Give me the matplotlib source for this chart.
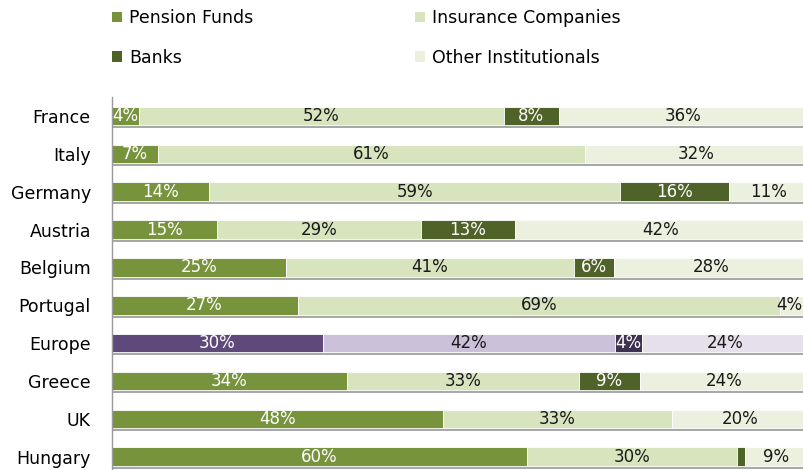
import matplotlib
matplotlib.use("Agg")
import matplotlib.pyplot as plt
import matplotlib.patheffects as pe
from matplotlib.patches import Patch

plt.rcParams['font.family'] = ['DejaVu Sans']

categories = ['France', 'Italy', 'Germany', 'Austria', 'Belgium',
              'Portugal', 'Europe', 'Greece', 'UK', 'Hungary']
pension   = [3.9, 6.6, 14.0, 15.1, 25.0, 26.7, 30.3, 33.8, 47.6, 59.6]
insurance = [52.4, 61.4, 59.1, 29.4, 41.4, 69.3, 42.0, 33.3, 32.9, 30.3]
banks     = [7.9, 0.0, 15.6, 13.4, 5.8, 0.0, 3.9, 8.8, 0.0, 1.1]
other     = [35.8, 32.0, 11.3, 42.0, 27.8, 4.0, 23.8, 24.1, 19.6, 9.0]
series_names = ['Pension Funds', 'Insurance Companies', 'Banks', 'Other Institutionals']

green_colors = ['#77933C', '#D7E4BD', '#4F6228', '#EBF1DE']
purple_colors = ['#5F497A', '#CCC1DA', '#403151', '#E5E0EC']
text_colors = ['white', '#1a1a1a', 'white', '#1a1a1a']
highlight = 'Europe'

fig = plt.figure(figsize=(8.04, 4.70), dpi=100)
ax = fig.add_axes([111.7 / 804, 1 - 475.6 / 470, 696 / 804, (475.6 - 97.1) / 470])

series = [pension, insurance, banks, other]
ypos = list(range(len(categories)))
shadow = [pe.SimplePatchShadow(offset=(1.2, -2.2), shadow_rgbFace='#7a7a7a', alpha=0.65), pe.Normal()]

visible_max = 97.4  # keep labels inside the figure's right edge

left = [0.0] * len(categories)
for si, vals in enumerate(series):
    cols = [purple_colors[si] if c == highlight else green_colors[si] for c in categories]
    bars = ax.barh(ypos, vals, left=left, height=0.49, color=cols,
                   edgecolor='white', linewidth=0.6)
    for b in bars:
        b.set_path_effects(shadow)
    for i, v in enumerate(vals):
        if v >= 2:
            ax.text(min(left[i] + v / 2, visible_max), ypos[i], f"{v:.0f}%",
                    ha='center', va='center',
                    fontsize=12, color=text_colors[si], clip_on=False)
    left = [l + v for l, v in zip(left, vals)]

ax.set_xlim(0, 100)
ax.set_ylim(len(categories) - 0.5, -0.5)
ax.set_yticks(ypos)
ax.set_yticklabels(categories, fontsize=12.5)
ax.tick_params(axis='y', length=0, pad=15)
ax.set_xticks([])
for s in ['top', 'right', 'bottom']:
    ax.spines[s].set_visible(False)
ax.spines['left'].set_color('#9a9a9a')
ax.spines['left'].set_linewidth(1.0)

handles = [Patch(facecolor=green_colors[0]), Patch(facecolor=green_colors[2]),
           Patch(facecolor=green_colors[1]), Patch(facecolor=green_colors[3])]
labels = [series_names[0], series_names[2], series_names[1], series_names[3]]
fig.legend(handles, labels, ncol=2, loc='upper left',
           bbox_to_anchor=(112 / 804, 1 - 9 / 470), frameon=False,
           fontsize=12.5, handlelength=0.55, handleheight=0.55, handletextpad=0.45,
           columnspacing=9.3, labelspacing=1.25, borderpad=0, borderaxespad=0)

fig.savefig('out.png', dpi=100)
